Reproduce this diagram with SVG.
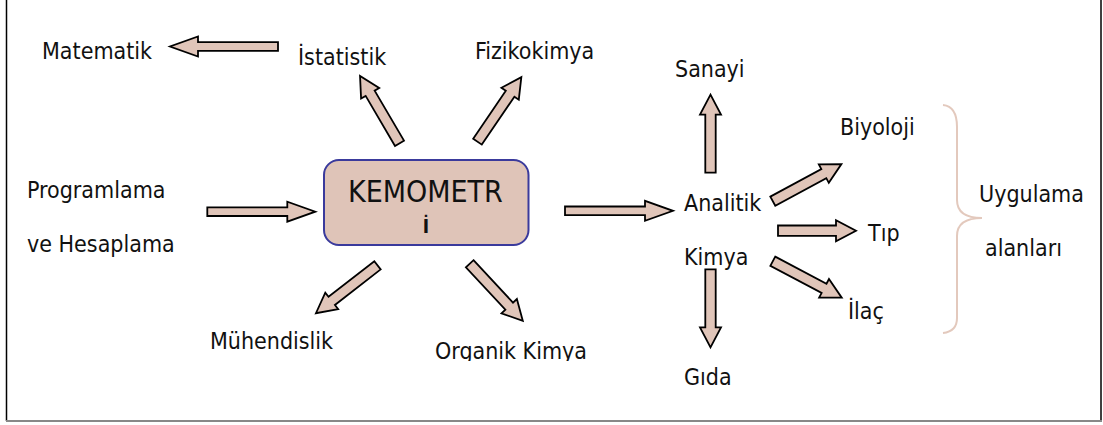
<svg xmlns="http://www.w3.org/2000/svg" width="1103" height="425" viewBox="0 0 1103 425">
<style>
text{font-family:"DejaVu Sans Condensed","DejaVu Sans",sans-serif;font-size:23px;fill:#111;}
.arr{fill:#e0c5b9;stroke:#000;stroke-width:1.8;stroke-linejoin:miter;}
.big{font-size:30px;}
</style>
<defs>
<path id="longA" d="M0,-4.3 H80 V-10 L108,0 L80,10 V4.3 H0 Z"/>
<path id="shortA" d="M0,-5.2 H58 V-10.5 L78,0 L58,10.5 V5.2 H0 Z"/>
<clipPath id="clipOrg"><rect x="420" y="330" width="200" height="31"/></clipPath>
</defs>
<rect x="0" y="0" width="1103" height="425" fill="#fff"/>
<g id="frame">
<line x1="6.5" y1="0" x2="6.5" y2="421" stroke="#000" stroke-width="1.5"/>
<line x1="1101" y1="0" x2="1101" y2="421" stroke="#000" stroke-width="1.5"/>
<line x1="6" y1="421" x2="1102" y2="421" stroke="#888" stroke-width="2"/>
</g>
<g id="connectors" class="arr">
<use href="#longA" transform="translate(278,46.5) rotate(180)"/>
<use href="#shortA" transform="translate(399.5,143.3) rotate(-120.4)"/>
<use href="#shortA" transform="translate(477.5,141.7) rotate(-55.8)"/>
<use href="#longA" transform="translate(207.3,211.7)"/>
<use href="#longA" transform="translate(565,210.8)"/>
<use href="#shortA" transform="translate(377.5,265.3) rotate(142.1)"/>
<use href="#shortA" transform="translate(469.7,263.7) rotate(47.1)"/>
<use href="#shortA" transform="translate(710.5,172.7) rotate(-90)"/>
<use href="#shortA" transform="translate(772.8,201.2) rotate(-28.4)"/>
<use href="#shortA" transform="translate(778,230.7)"/>
<use href="#shortA" transform="translate(772.8,261.2) rotate(27.9)"/>
<use href="#shortA" transform="translate(710.5,269.3) rotate(90)"/>
</g>
<g id="kemometri">
<rect x="324" y="160" width="204.5" height="85" rx="15" ry="15" fill="#dfc4b8" stroke="#3a3a9c" stroke-width="2"/>
<text class="big" x="348" y="201.5">KEMOMETR</text>
<text x="426" y="233" text-anchor="middle" style="font-size:19px;font-weight:bold">İ</text>
</g>
<g id="matematik"><text x="42" y="59">Matematik</text></g>
<g id="istatistik"><text x="298" y="65">İstatistik</text></g>
<g id="fizikokimya"><text x="475" y="59">Fizikokimya</text></g>
<g id="programlama"><text x="27" y="198">Programlama</text><text x="27" y="251.5">ve Hesaplama</text></g>
<g id="muhendislik"><text x="210" y="349">Mühendislik</text></g>
<g id="organik"><text x="435" y="359" clip-path="url(#clipOrg)">Organik Kimya</text></g>
<g id="sanayi"><text x="675" y="77">Sanayi</text></g>
<g id="analitik"><text x="684" y="211">Analitik</text><text x="684" y="264.5">Kimya</text></g>
<g id="biyoloji"><text x="840" y="135">Biyoloji</text></g>
<g id="tip"><text x="868" y="241">Tıp</text></g>
<g id="ilac"><text x="848" y="319">İlaç</text></g>
<g id="gida"><text x="684" y="385">Gıda</text></g>
<g id="uygulama">
<path d="M943,105 C953,106 957,114 957,127 L957,200 C957,212 965,218 982,218 C965,218 957,224 957,236 L957,318 C957,328 952,332 943,333" fill="none" stroke="#e3c9bd" stroke-width="2"/>
<text x="979" y="202">Uygulama</text>
<text x="985" y="255.5">alanları</text>
</g>
</svg>
